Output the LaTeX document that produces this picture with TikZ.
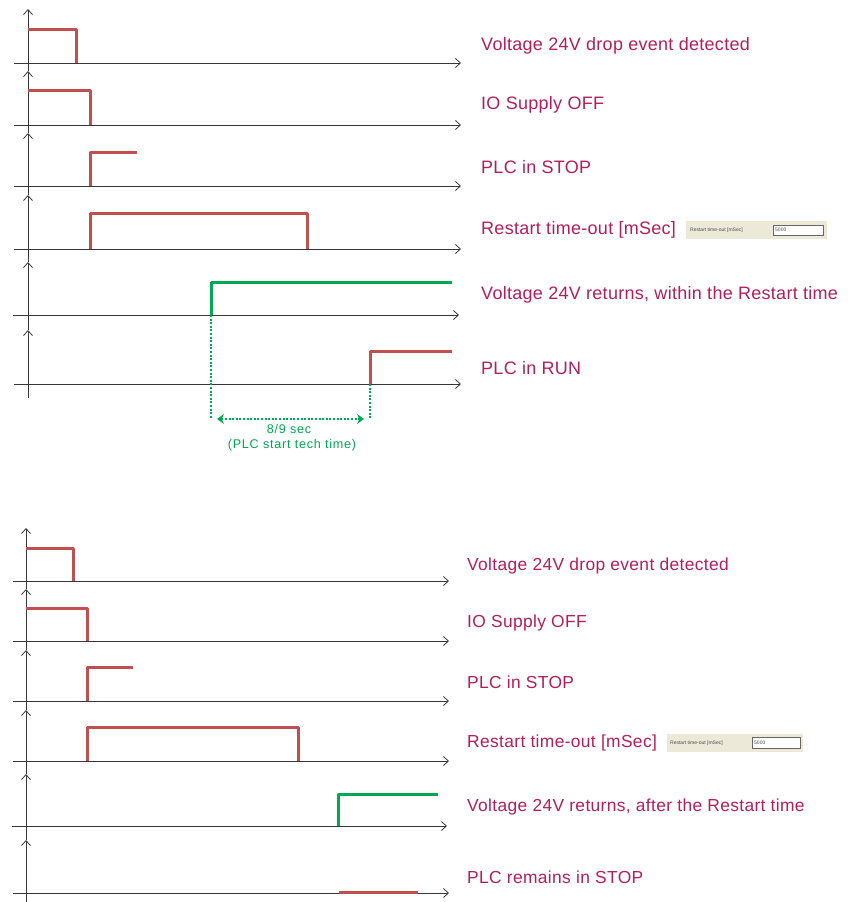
\documentclass[tikz,border=0pt]{standalone}
\usepackage{fontspec}
\setmainfont{Liberation Sans}
\usetikzlibrary{arrows.meta}
\definecolor{sigred}{RGB}{192,80,77}
\definecolor{siggreen}{RGB}{0,168,80}
\definecolor{labelred}{RGB}{178,30,92}
\definecolor{axisgray}{RGB}{55,55,55}
\definecolor{panelbg}{RGB}{236,233,216}

\begin{document}
\begin{tikzpicture}[x=1pt,y=-1pt,
	axis/.style={-{Straight Barb[length=5pt,width=9pt]},axisgray,line width=0.8pt},
	sigline/.style={sigred,line width=3pt,line join=round},
	greenline/.style={siggreen,line width=3pt,line join=round},
	dotline/.style={siggreen,line width=2.2pt,dash pattern=on 2pt off 1.6pt},
	lbl/.style={anchor=west,inner sep=0pt,text=labelred,font=\fontsize{18}{20}\addfontfeatures{LetterSpace=1.6}\selectfont},
	lblsmall/.style={lbl,font=\fontsize{17.4}{20}\addfontfeatures{LetterSpace=2}\selectfont},
	note/.style={inner sep=0pt,text=siggreen,font=\fontsize{12.6}{14}\addfontfeatures{LetterSpace=6}\selectfont},
	tiny/.style={anchor=west,inner sep=0pt,text=black!70,font=\fontsize{5}{6}\selectfont}]
	\useasboundingbox (0,0) rectangle (850,902);

	% within the restart time
	\draw[axis] (28,71)--(28,9);
	\draw[axis] (28,133)--(28,71);
	\draw[axis] (28,195)--(28,133);
	\draw[axis] (28,262)--(28,195);
	\draw[axis] (28,330)--(28,262);
	\draw[axis] (28,398)--(28,330);
	\draw[axis] (14,63)--(461,63);
	\draw[axis] (14,125)--(461,125);
	\draw[axis] (14,186)--(461,186);
	\draw[axis] (14,249)--(461,249);
	\draw[axis] (13,315)--(459,315);
	\draw[axis] (14,384)--(461,384);

	\draw[sigline] (28,29)--(76,29)--(76,63);
	\draw[sigline] (28,90)--(90,90)--(90,125);
	\draw[sigline] (90,186)--(90,152)--(137,152);
	\draw[sigline] (90,249)--(90,213)--(307,213)--(307,249);
	\draw[greenline] (211,315)--(211,282)--(452,282);
	\draw[sigline] (370,384)--(370,351)--(452,351);

	\coordinate (retA) at (211,315);
	\coordinate (runA) at (370,384);
	\coordinate (retB) at (211,419);
	\coordinate (runB) at (370,419);
	\draw[dotline] (retA)--(retB);
	\draw[dotline] (runA)--(runB);
	\draw[dotline,{Stealth[length=7pt,width=10pt]}-{Stealth[length=7pt,width=10pt]}] ([xshift=6pt]retB)--([xshift=-6pt]runB);
	\node[note] (dur) at (289,429) {8/9 sec};
	\node[note] (durnote) at (292,445) {(PLC start tech time)};

	\node[lbl] (dropA) at (481,46) {Voltage 24V drop event detected};
	\node[lbl] (ioA) at (481,105) {IO Supply OFF};
	\node[lbl] (stopA) at (481,167) {PLC in STOP};
	\node[lbl] (toutA) at (481,230) {Restart time-out [mSec]};
	\node[lbl] (backA) at (481,295) {Voltage 24V returns, within the Restart time};
	\node[lbl] (runlbl) at (481,368) {PLC in RUN};

	\fill[panelbg] (686,221) rectangle (827,239);
	\node[tiny] (panA) at (690,230) {Restart time-out [mSec]};
	\draw[draw=black!60,fill=white,line width=0.6pt] (773,225) rectangle (823,235);
	\node[tiny] (valA) at (775,230) {5000};

	% after the restart time
	\draw[axis] (26,589)--(26,528);
	\draw[axis] (26,650)--(26,589);
	\draw[axis] (26,710)--(26,650);
	\draw[axis] (26,774)--(26,710);
	\draw[axis] (26,840)--(26,774);
	\draw[axis] (26,903)--(26,840);
	\draw[axis] (13,581)--(449,581);
	\draw[axis] (13,641)--(449,641);
	\draw[axis] (13,701)--(449,701);
	\draw[axis] (13,761)--(449,761);
	\draw[axis] (12,826)--(447,826);
	\draw[axis] (13,893)--(449,893);

	\draw[sigline] (26,548)--(73,548)--(73,581);
	\draw[sigline] (26,608)--(87,608)--(87,641);
	\draw[sigline] (87,701)--(87,667)--(133,667);
	\draw[sigline] (87,761)--(87,727)--(298,727)--(298,761);
	\draw[greenline] (338,826)--(338,794)--(438,794);
	\draw[sigline] (339,892)--(418,892);

	\node[lblsmall] (dropB) at (467,566) {Voltage 24V drop event detected};
	\node[lblsmall] (ioB) at (467,623) {IO Supply OFF};
	\node[lblsmall] (stopB) at (467,682) {PLC in STOP};
	\node[lblsmall] (toutB) at (467,743) {Restart time-out [mSec]};
	\node[lblsmall] (backB) at (467,807) {Voltage 24V returns, after the Restart time};
	\node[lblsmall] (keepB) at (467,877) {PLC remains in STOP};

	\fill[panelbg] (667,734) rectangle (803,752);
	\node[tiny] (panB) at (670,743) {Restart time-out [mSec]};
	\draw[draw=black!60,fill=white,line width=0.6pt] (752,737) rectangle (800,748);
	\node[tiny] (valB) at (754,742.5) {5000};
\end{tikzpicture}
\end{document}
